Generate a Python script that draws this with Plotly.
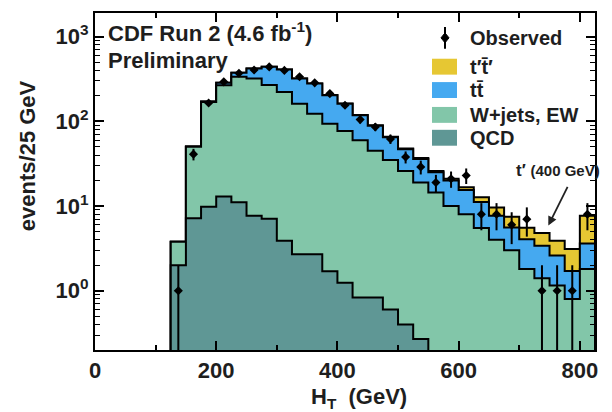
import numpy as np
import plotly.graph_objects as go

# H_T binning: 25 GeV bins from 125 to 825 GeV
bin_edges = list(range(125, 826, 25))

# Per-bin expected events for each process (events / 25 GeV)
qcd = [2.0, 7.2, 9.8, 13.0, 11.1, 7.7, 7.1, 3.9, 2.7, 2.7, 1.7, 1.24, 0.83, 0.83,
       0.6, 0.4, 0.27, 0, 0, 0, 0, 0, 0, 0, 0, 0, 0, 0]
wjets_ew = [1.8, 42.8, 160, 255, 325, 313, 261, 219, 159, 120, 92.3, 75.8, 59.2, 44.2,
            34.4, 25.6, 18.7, 14.5, 10.0, 8.0, 5.5, 4.0, 3.0, 1.8, 1.4, 1.15, 0.8, 1.8]
ttbar = [0.0, 0.5, 2, 17, 39, 101, 174, 187, 159, 157, 110, 85, 58, 44,
         30, 21, 17, 10.5, 10, 7.5, 5.7, 3.7, 2.6, 2.26, 2.0, 1.45, 0.91, 1.8]
tprime = [0, 0, 0, 0.02, 0.05, 0.1, 0.15, 0.2, 0.3, 0.35, 0.45, 0.5, 0.6, 0.7,
          0.75, 0.8, 0.85, 0.9, 1.0, 1.2, 1.5, 1.9, 1.9, 1.5, 1.4, 1.3, 1.4, 4.1]

# Observed counts
observed = [1, 41, 165, 293, 370, 404, 440, 400, 336, 285, 213, 155, 105, 86,
            62, 38, 29, 19, 21, 23, 8, 8, 6, 7, 1, 1, 1, 8]

# Axis tick labels
x_tick_vals = [0, 200, 400, 600, 800]
y_tick_vals = [1, 10, 100, 1000]
y_tick_text = ["10<sup>0</sup>", "10<sup>1</sup>", "10<sup>2</sup>", "10<sup>3</sup>"]

COL_TPRIME = "#e6c733"
COL_TTBAR = "#45a9f0"
COL_WJETS = "#82c6a9"
COL_QCD = "#5f9795"
TXT = "#1e1e1e"
FONT = "Liberation Sans"

# plot-area geometry in pixels (used for paper-coordinate placement)
L, R, T, B = 95, 595, 11, 350


def px(x):
    return (x - L) / (R - L)


def py(y):
    return (B - y) / (B - T)


def step_polygon(values, floor=1e-3):
    xs, ys = [bin_edges[0]], [floor]
    for i, v in enumerate(values):
        v = max(v, floor)
        xs += [bin_edges[i], bin_edges[i + 1]]
        ys += [v, v]
    xs.append(bin_edges[-1])
    ys.append(floor)
    return xs, ys


q = np.array(qcd, dtype=float)
w = q + np.array(wjets_ew)
t = w + np.array(ttbar)
tp = t + np.array(tprime)

fig = go.Figure()
for stack, col in [(tp, COL_TPRIME), (t, COL_TTBAR), (w, COL_WJETS), (q, COL_QCD)]:
    xs, ys = step_polygon(stack)
    fig.add_trace(go.Scatter(x=xs, y=ys, mode="lines", fill="toself", fillcolor=col,
                             line=dict(color="black", width=2), hoverinfo="skip",
                             showlegend=False))

centers = [(a + b) / 2 for a, b in zip(bin_edges[:-1], bin_edges[1:])]
obs = np.array(observed, dtype=float)
fig.add_trace(go.Scatter(
    x=centers, y=obs, mode="markers",
    marker=dict(symbol="diamond", size=7, color="black"),
    error_y=dict(type="data", array=np.sqrt(obs), visible=True, color="black",
                 thickness=2, width=0),
    showlegend=False))

shapes = []
annotations = []

# legend
lx0, lx1 = 432, 457
shapes.append(dict(type="line", xref="paper", yref="paper", x0=px(445), x1=px(445),
                   y0=py(25), y1=py(47), line=dict(color="black", width=2)))
shapes.append(dict(type="path", xref="paper", yref="paper",
                   path=f"M {px(445)} {py(31)} L {px(449)} {py(36)} L {px(445)} {py(41)} L {px(441)} {py(36)} Z",
                   fillcolor="black", line=dict(color="black", width=1)))
legend_rows = [("Observed", None, 36), ("t′t̄′", COL_TPRIME, 65), ("tt̄", COL_TTBAR, 88.5),
               ("W+jets, EW", COL_WJETS, 113.5), ("QCD", COL_QCD, 136.5)]
for label, col, yc in legend_rows:
    if col is not None:
        shapes.append(dict(type="rect", xref="paper", yref="paper", x0=px(lx0), x1=px(lx1),
                           y0=py(yc + 8), y1=py(yc - 8), fillcolor=col, line=dict(width=0)))
    annotations.append(dict(text=label, xref="paper", yref="paper", x=px(468), y=py(yc),
                            xanchor="left", yanchor="middle", showarrow=False,
                            font=dict(family=FONT, size=20, color=TXT, weight="bold")))

annotations += [
    dict(text="CDF Run 2 (4.6 fb<sup>-1</sup>)", xref="paper", yref="paper",
         x=px(106), y=py(30), xanchor="left", yanchor="middle", showarrow=False,
         font=dict(family=FONT, size=22, color=TXT, weight="bold")),
    dict(text="Preliminary", xref="paper", yref="paper", x=px(106), y=py(59),
         xanchor="left", yanchor="middle", showarrow=False,
         font=dict(family=FONT, size=22, color=TXT, weight="bold")),
    dict(text="t′ <span style='font-size:15px'>(400 GeV)</span>", xref="paper", yref="paper",
         x=px(514), y=py(169), xanchor="left", yanchor="middle", showarrow=False,
         font=dict(family=FONT, size=17, color=TXT, weight="bold")),
    dict(text="", x=748, y=np.log10(5.9), xref="x", yref="y", ax=20, ay=-40,
         showarrow=True, arrowhead=2, arrowsize=1, arrowwidth=1.8, arrowcolor="#222"),
    dict(text="H<sub>T</sub>\u00a0\u00a0(GeV)", xref="paper", yref="paper",
         x=px(359), y=py(398), xanchor="center", yanchor="middle", showarrow=False,
         font=dict(family=FONT, size=22, color=TXT, weight="bold")),
    dict(text="events/25 GeV", xref="paper", yref="paper", x=px(27), y=py(155),
         xanchor="center", yanchor="middle", textangle=-90, showarrow=False,
         font=dict(family=FONT, size=22, color=TXT, weight="bold")),
]

y_minor = [k * 10.0 ** e for e in range(-1, 4) for k in range(2, 10)]

fig.update_layout(
    width=612, height=412,
    margin=dict(l=L, r=612 - R, t=T, b=412 - B),
    paper_bgcolor="white", plot_bgcolor="white",
    shapes=shapes, annotations=annotations,
    showlegend=False,
    xaxis=dict(range=[0, 825], tickmode="array", tickvals=x_tick_vals,
               ticks="inside", ticklen=9, tickwidth=1.5, tickcolor="black",
               minor=dict(tickmode="array", tickvals=[100, 300, 500, 700], ticks="inside",
                          ticklen=5, tickwidth=1.5, tickcolor="black", showgrid=False),
               showline=True, linecolor="black", linewidth=2, mirror="allticks",
               showgrid=False, zeroline=False,
               tickfont=dict(family=FONT, size=22, color=TXT, weight="bold")),
    yaxis=dict(type="log", range=[-0.70, 3.28], tickmode="array", tickvals=y_tick_vals,
               ticktext=y_tick_text, ticks="inside", ticklen=9, tickwidth=1.5,
               tickcolor="black",
               minor=dict(tickmode="array", tickvals=y_minor, ticks="inside",
                          ticklen=5, tickwidth=1, tickcolor="black", showgrid=False),
               showline=True, linecolor="black", linewidth=2, mirror="allticks",
               showgrid=False, zeroline=False,
               tickfont=dict(family=FONT, size=22, color=TXT, weight="bold")),
)

fig.write_html("out.html")
